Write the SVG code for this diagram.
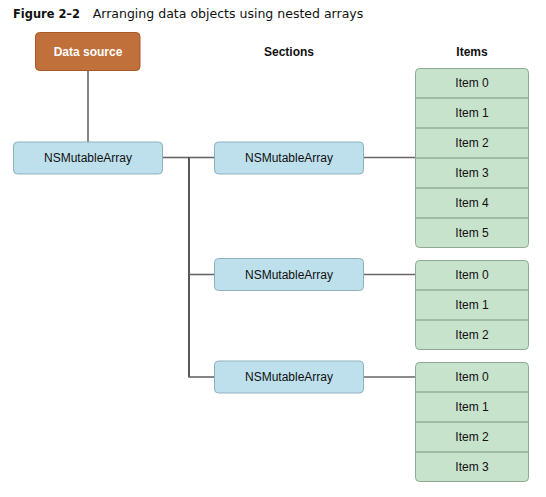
<svg xmlns="http://www.w3.org/2000/svg" width="546" height="497" viewBox="0 0 546 497">
<style>
.t{font-family:"Liberation Sans",Arial,sans-serif;font-size:12px;fill:#111;text-anchor:middle}
.b{font-weight:bold}
.ds{fill:#c0713b;stroke:#a65a2a;stroke-width:1}
.arr{fill:#bde0ec;stroke:#8fb1be;stroke-width:1}
.items{fill:#c8e3cb;stroke:#8fa892;stroke-width:1}
.div{stroke:#97ad99;stroke-width:1.5}
.c{stroke:#666;stroke-width:1.6;fill:none}
.k{stroke:#111;stroke-width:1.4;fill:none}
</style>
<rect width="546" height="497" fill="#fff"/>
<text x="13" y="17.5" font-family="'DejaVu Sans',Verdana,sans-serif" font-size="12" fill="#111"><tspan font-weight="bold" textLength="67" lengthAdjust="spacingAndGlyphs">Figure 2–2</tspan><tspan x="92.7" textLength="270.6" lengthAdjust="spacingAndGlyphs">Arranging data objects using nested arrays</tspan></text>
<text class="t b" x="289" y="55.5">Sections</text>
<text class="t b" x="472" y="55.5">Items</text>
<g id="connectors">
<line class="c" x1="88" y1="71" x2="88" y2="142"/>
<line class="c" x1="162.5" y1="157.5" x2="189" y2="157.5"/>
<line class="k" x1="189" y1="157.5" x2="189" y2="377"/>
<line class="c" x1="189" y1="157.5" x2="214" y2="157.5"/>
<line class="c" x1="189" y1="274.5" x2="214" y2="274.5"/>
<line class="c" x1="188.3" y1="377" x2="214" y2="377"/>
<line class="c" x1="363" y1="157.5" x2="415" y2="157.5"/>
<line class="c" x1="363" y1="274.5" x2="415" y2="274.5"/>
<line class="c" x1="363" y1="377" x2="415" y2="377"/>
</g>
<g id="datasource">
<rect class="ds" x="35.5" y="32.5" width="104.5" height="38" rx="4"/>
<text class="t b" x="88" y="56" fill="#fff" style="fill:#fff">Data source</text>
</g>
<g id="root">
<rect class="arr" x="13.5" y="142" width="149" height="32" rx="4"/>
<text class="t" x="88" y="162">NSMutableArray</text>
</g>
<g id="section1">
<rect class="arr" x="214.5" y="142" width="149" height="32" rx="4"/>
<text class="t" x="289" y="162">NSMutableArray</text>
</g>
<g id="section2">
<rect class="arr" x="214.5" y="258.5" width="149" height="32" rx="4"/>
<text class="t" x="289" y="278.5">NSMutableArray</text>
</g>
<g id="section3">
<rect class="arr" x="214.5" y="361" width="149" height="32" rx="4"/>
<text class="t" x="289" y="381">NSMutableArray</text>
</g>
<g id="items1">
<rect class="items" x="415.5" y="68.5" width="113" height="179" rx="4"/>
<line class="div" x1="416" y1="98" x2="528" y2="98"/>
<line class="div" x1="416" y1="128" x2="528" y2="128"/>
<line class="div" x1="416" y1="158" x2="528" y2="158"/>
<line class="div" x1="416" y1="188" x2="528" y2="188"/>
<line class="div" x1="416" y1="218" x2="528" y2="218"/>
<text class="t" x="472" y="87">Item 0</text>
<text class="t" x="472" y="117">Item 1</text>
<text class="t" x="472" y="147">Item 2</text>
<text class="t" x="472" y="177">Item 3</text>
<text class="t" x="472" y="207">Item 4</text>
<text class="t" x="472" y="237">Item 5</text>
</g>
<g id="items2">
<rect class="items" x="415.5" y="260.5" width="113" height="89" rx="4"/>
<line class="div" x1="416" y1="290" x2="528" y2="290"/>
<line class="div" x1="416" y1="320" x2="528" y2="320"/>
<text class="t" x="472" y="279">Item 0</text>
<text class="t" x="472" y="309">Item 1</text>
<text class="t" x="472" y="339">Item 2</text>
</g>
<g id="items3">
<rect class="items" x="415.5" y="362.5" width="113" height="119" rx="4"/>
<line class="div" x1="416" y1="392" x2="528" y2="392"/>
<line class="div" x1="416" y1="422" x2="528" y2="422"/>
<line class="div" x1="416" y1="452" x2="528" y2="452"/>
<text class="t" x="472" y="381">Item 0</text>
<text class="t" x="472" y="411">Item 1</text>
<text class="t" x="472" y="441">Item 2</text>
<text class="t" x="472" y="471">Item 3</text>
</g>
</svg>
